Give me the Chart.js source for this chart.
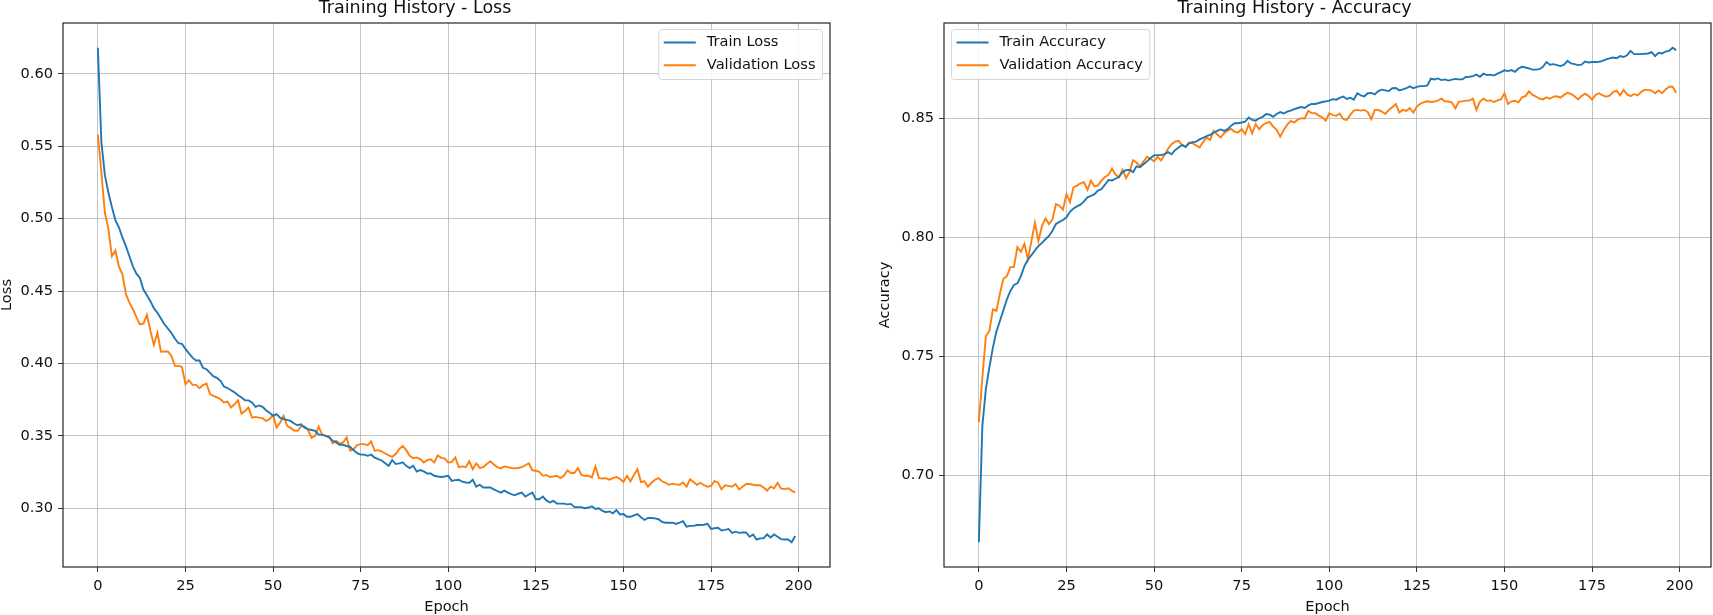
<!DOCTYPE html>
<html>
<head>
<meta charset="utf-8">
<title>Training History</title>
<script src="https://cdn.jsdelivr.net/npm/chart.js@4.4.1/dist/chart.umd.min.js"></script>
<style>
  html, body { margin: 0; padding: 0; background: #fff; }
  #wrap { position: relative; width: 1713px; height: 615px; overflow: hidden; }
  canvas { position: absolute; top: 0; }
  #lossChart { left: 0; }
  #accChart { left: 878px; }
</style>
</head>
<body>
<div id="wrap">
  <canvas id="lossChart" width="850" height="615"></canvas>
  <canvas id="accChart" width="835" height="615"></canvas>
</div>
<script>
// values, one per epoch (0..199)
const epochTicks = [0, 25, 50, 75, 100, 125, 150, 175, 200];
const lossTicks = [0.30, 0.35, 0.40, 0.45, 0.50, 0.55, 0.60];
const accTicks = [0.70, 0.75, 0.80, 0.85];

const trainLoss = [
  0.618, 0.553, 0.530, 0.518, 0.508, 0.499, 0.494, 0.487, 0.481, 0.474,
  0.467, 0.462, 0.459, 0.451, 0.447, 0.443, 0.438, 0.435, 0.431, 0.427,
  0.424, 0.421, 0.417, 0.414, 0.4135, 0.410, 0.407, 0.404, 0.402, 0.402,
  0.397, 0.396, 0.3935, 0.391, 0.390, 0.388, 0.384, 0.383, 0.3815, 0.380,
  0.378, 0.3765, 0.3745, 0.3745, 0.373, 0.370, 0.371, 0.370, 0.3677, 0.366,
  0.3638, 0.365, 0.3626, 0.3615, 0.361, 0.3603, 0.3585, 0.3573, 0.358, 0.3557,
  0.3546, 0.354, 0.3534, 0.351, 0.3507, 0.350, 0.349, 0.3466, 0.3455, 0.3438,
  0.3438, 0.343, 0.3424, 0.340, 0.338, 0.337, 0.337, 0.3362, 0.337, 0.335,
  0.334, 0.333, 0.331, 0.3293, 0.3333, 0.3305, 0.331, 0.3317, 0.3293, 0.3277,
  0.3293, 0.3254, 0.3264, 0.3254, 0.324, 0.324, 0.3224, 0.3219, 0.3216, 0.3219,
  0.3224, 0.3189, 0.3194, 0.3197, 0.3184, 0.3178, 0.3176, 0.3197, 0.3149, 0.3162,
  0.3143, 0.3143, 0.3143, 0.313, 0.3119, 0.3108, 0.3122, 0.3108, 0.3097, 0.3089,
  0.310, 0.3108, 0.3081, 0.3095, 0.3108, 0.3062, 0.3062, 0.3081, 0.3054, 0.304,
  0.3051, 0.3032, 0.3032, 0.3032, 0.3027, 0.303, 0.3008, 0.3008, 0.3008, 0.300,
  0.3005, 0.3014, 0.2995, 0.300, 0.2981, 0.2973, 0.2978, 0.2965, 0.2987, 0.2957,
  0.296, 0.2941, 0.2941, 0.2951, 0.296, 0.2938, 0.2919, 0.2933, 0.2933, 0.293,
  0.2924, 0.2906, 0.290, 0.290, 0.290, 0.2892, 0.290, 0.2911, 0.2873, 0.2878,
  0.2878, 0.2884, 0.2884, 0.2886, 0.2892, 0.2857, 0.2862, 0.2865, 0.2846, 0.2851,
  0.2857, 0.283, 0.2838, 0.283, 0.2833, 0.2833, 0.2803, 0.2819, 0.2784, 0.2792,
  0.2792, 0.2819, 0.2798, 0.2819, 0.2803, 0.2787, 0.2784, 0.2784, 0.2765, 0.2808
];

const valLoss = [
  0.558, 0.532, 0.504, 0.493, 0.474, 0.478, 0.467, 0.4615, 0.448, 0.442,
  0.4374, 0.432, 0.427, 0.4275, 0.4335, 0.4224, 0.4128, 0.4213, 0.408, 0.4082,
  0.4082, 0.4052, 0.3983, 0.3983, 0.3976, 0.3857, 0.3884, 0.3852, 0.3852, 0.3829,
  0.385, 0.3861, 0.3788, 0.3776, 0.3765, 0.3753, 0.373, 0.3737, 0.3696, 0.3718,
  0.3746, 0.3654, 0.3672, 0.3696, 0.3626, 0.3631, 0.3626, 0.3622, 0.3603, 0.3615,
  0.3645, 0.3557, 0.359, 0.3638, 0.357, 0.3555, 0.3537, 0.3535, 0.3565, 0.3565,
  0.354, 0.3486, 0.350, 0.3563, 0.351, 0.350, 0.350, 0.3448, 0.3466, 0.3447,
  0.3454, 0.3488, 0.3397, 0.3408, 0.3436, 0.3443, 0.3443, 0.3436, 0.3461, 0.3397,
  0.3401, 0.3392, 0.3378, 0.3365, 0.3355, 0.3374, 0.3408, 0.3431, 0.3401, 0.3362,
  0.3346, 0.3351, 0.3339, 0.3316, 0.3332, 0.3338, 0.3316, 0.3365, 0.3348, 0.3343,
  0.3316, 0.3319, 0.3351, 0.3284, 0.3289, 0.3284, 0.3324, 0.327, 0.331, 0.3278,
  0.3284, 0.3305, 0.3324, 0.3302, 0.3284, 0.3275, 0.3289, 0.3284, 0.3278, 0.3275,
  0.3278, 0.3284, 0.3297, 0.331, 0.3262, 0.3259, 0.3251, 0.3224, 0.323, 0.3216,
  0.3219, 0.3224, 0.3208, 0.3224, 0.3262, 0.3243, 0.3243, 0.3278, 0.323, 0.3224,
  0.3224, 0.3213, 0.3289, 0.3208, 0.3205, 0.3208, 0.3197, 0.3208, 0.3216, 0.3203,
  0.3181, 0.3224, 0.3186, 0.323, 0.327, 0.3181, 0.3186, 0.3149, 0.3176, 0.3197,
  0.3208, 0.3186, 0.3176, 0.3162, 0.317, 0.3165, 0.3162, 0.3178, 0.3149, 0.320,
  0.3181, 0.3162, 0.3176, 0.3159, 0.3149, 0.3154, 0.3189, 0.3176, 0.313, 0.3159,
  0.3154, 0.3149, 0.3167, 0.313, 0.3149, 0.3167, 0.3167, 0.3162, 0.3159, 0.3159,
  0.3143, 0.3122, 0.3149, 0.3138, 0.3176, 0.3135, 0.3132, 0.3138, 0.3122, 0.3108
];

const trainAcc = [
  0.672, 0.721, 0.7363, 0.7454, 0.7537, 0.7604, 0.7649, 0.7694, 0.774, 0.7775,
  0.780, 0.7807, 0.7837, 0.7879, 0.7907, 0.7925, 0.7945, 0.7963, 0.7977, 0.7992,
  0.8006, 0.8028, 0.8056, 0.8065, 0.8073, 0.8084, 0.8107, 0.8121, 0.813, 0.8137,
  0.8151, 0.8168, 0.8174, 0.8181, 0.8196, 0.8203, 0.8221, 0.8241, 0.8239, 0.8246,
  0.8254, 0.8274, 0.8282, 0.8284, 0.8274, 0.8298, 0.8294, 0.8307, 0.8319, 0.8333,
  0.8344, 0.8345, 0.8345, 0.8349, 0.8358, 0.8349, 0.8366, 0.8377, 0.8388, 0.8379,
  0.8395, 0.840, 0.8402, 0.8411, 0.8418, 0.8425, 0.843, 0.8439, 0.8447, 0.8453,
  0.8447, 0.8454, 0.8469, 0.8479, 0.8479, 0.8482, 0.8486, 0.8503, 0.8493, 0.849,
  0.850, 0.8506, 0.8518, 0.8515, 0.8506, 0.8518, 0.8526, 0.852, 0.8528, 0.8532,
  0.8538, 0.8543, 0.8547, 0.8543, 0.8554, 0.856, 0.856, 0.8564, 0.8568, 0.8571,
  0.8574, 0.858, 0.8578, 0.8585, 0.8591, 0.8581, 0.8586, 0.8578, 0.8605, 0.8596,
  0.8592, 0.8605, 0.8606, 0.860, 0.8614, 0.862, 0.8617, 0.8614, 0.8626, 0.8627,
  0.8617, 0.8621, 0.8626, 0.8634, 0.8626, 0.8632, 0.8635, 0.8635, 0.8638, 0.8666,
  0.8663, 0.8667, 0.866, 0.8663, 0.8658, 0.8662, 0.8665, 0.8663, 0.8663, 0.8673,
  0.8674, 0.8677, 0.8683, 0.8674, 0.8687, 0.8681, 0.8683, 0.8679, 0.8687, 0.8694,
  0.8701, 0.8698, 0.8702, 0.8695, 0.8709, 0.8716, 0.8713, 0.8709, 0.8704, 0.8704,
  0.8706, 0.8716, 0.8736, 0.8725, 0.8727, 0.8723, 0.8719, 0.8725, 0.8741, 0.873,
  0.8727, 0.8723, 0.8725, 0.8738, 0.8734, 0.8736, 0.8736, 0.8737, 0.8741, 0.8747,
  0.8751, 0.8755, 0.8752, 0.8761, 0.8757, 0.8764, 0.8783, 0.8769, 0.8769, 0.8769,
  0.8771, 0.8772, 0.8778, 0.8761, 0.8775, 0.8772, 0.878, 0.8783, 0.8796, 0.8786
];

const valAcc = [
  0.7224, 0.741, 0.7586, 0.7607, 0.7698, 0.7691, 0.7763, 0.7826, 0.7837, 0.7875,
  0.7875, 0.7959, 0.7939, 0.7973, 0.7907, 0.7984, 0.8061, 0.7984, 0.8047, 0.8079,
  0.8056, 0.8075, 0.814, 0.8133, 0.8116, 0.8182, 0.8148, 0.821, 0.8217, 0.8227,
  0.8232, 0.820, 0.8238, 0.8214, 0.8218, 0.8238, 0.8253, 0.8263, 0.8288, 0.8263,
  0.8252, 0.8284, 0.8249, 0.8274, 0.8324, 0.8314, 0.8298, 0.8319, 0.8338, 0.833,
  0.8319, 0.8338, 0.8323, 0.8347, 0.8372, 0.8391, 0.8402, 0.8405, 0.8388, 0.8381,
  0.8398, 0.8395, 0.8386, 0.8377, 0.840, 0.8419, 0.8409, 0.8447, 0.8433, 0.8419,
  0.8437, 0.8448, 0.8455, 0.8443, 0.844, 0.8455, 0.8433, 0.8475, 0.8437, 0.8475,
  0.8454, 0.8472, 0.848, 0.8485, 0.8465, 0.8451, 0.8423, 0.8451, 0.8473, 0.8489,
  0.8482, 0.8494, 0.850, 0.8499, 0.8531, 0.8522, 0.8521, 0.8511, 0.8504, 0.849,
  0.8521, 0.8513, 0.851, 0.852, 0.8496, 0.8493, 0.8514, 0.8532, 0.8535, 0.8532,
  0.8535, 0.8526, 0.8496, 0.8535, 0.8535, 0.8528, 0.8518, 0.8535, 0.8546, 0.8559,
  0.8524, 0.8535, 0.8531, 0.8543, 0.8524, 0.8549, 0.8561, 0.8568, 0.8571, 0.8568,
  0.857, 0.8574, 0.8582, 0.8571, 0.857, 0.8566, 0.8542, 0.857, 0.8571, 0.8574,
  0.8574, 0.8582, 0.8535, 0.857, 0.8582, 0.8573, 0.8575, 0.8568, 0.8575, 0.8579,
  0.8605, 0.856, 0.8571, 0.8573, 0.8567, 0.8588, 0.8593, 0.8613, 0.8598, 0.8591,
  0.8582, 0.8579, 0.8588, 0.8582, 0.8591, 0.8592, 0.8586, 0.8598, 0.8607, 0.8602,
  0.8592, 0.8579, 0.8593, 0.8603, 0.8593, 0.8578, 0.8598, 0.8605, 0.8596, 0.8591,
  0.8595, 0.861, 0.8616, 0.8596, 0.8619, 0.860, 0.8593, 0.8602, 0.8596, 0.861,
  0.8619, 0.8619, 0.8616, 0.8605, 0.8617, 0.8605, 0.8621, 0.8632, 0.8632, 0.8607
];

const epochs = trainLoss.map((_, i) => i);

const BLUE = '#1f77b4';
const ORANGE = '#ff7f0e';
const GRID = 'rgba(176,176,176,0.75)';
const FONT = '"DejaVu Sans", sans-serif';
const FS = 14.6;

Chart.defaults.font.family = FONT;
Chart.defaults.color = '#111';

// axes box and legend drawn inside the plot, like matplotlib
const boxAndLegend = {
  id: 'boxAndLegend',
  afterDraw(chart, args, opts) {
    const { ctx, chartArea: a } = chart;
    ctx.save();
    ctx.strokeStyle = '#262626';
    ctx.lineWidth = 1.2;
    ctx.strokeRect(a.left, a.top, a.right - a.left, a.bottom - a.top);

    ctx.font = FS + 'px ' + FONT;
    const sets = chart.data.datasets;
    const textW = Math.max(...sets.map(d => ctx.measureText(d.label).width));
    const w = 48 + textW + 7;
    const h = 50;
    const x = opts.side === 'right' ? a.right - 7.5 - w : a.left + 7.5;
    const y = a.top + 6.5;
    ctx.beginPath();
    ctx.roundRect(x, y, w, h, 3);
    ctx.fillStyle = 'rgba(255,255,255,0.85)';
    ctx.fill();
    ctx.strokeStyle = '#d6d6d6';
    ctx.lineWidth = 1;
    ctx.stroke();

    ctx.textBaseline = 'middle';
    ctx.textAlign = 'left';
    sets.forEach((d, i) => {
      const cy = y + 13 + i * 22.7;
      ctx.strokeStyle = d.borderColor;
      ctx.lineWidth = 2;
      ctx.beginPath();
      ctx.moveTo(x + 5, cy);
      ctx.lineTo(x + 37, cy);
      ctx.stroke();
      ctx.fillStyle = '#111';
      ctx.fillText(d.label, x + 48, cy);
    });
    ctx.restore();
  }
};

function makeChart(id, title, yLabel, yTicks, series, side, yWidth, padRight) {
  const all = series.flatMap(s => s.data);
  const lo = Math.min(...all), hi = Math.max(...all);
  const m = (hi - lo) * 0.05;
  const n = epochs.length - 1;
  const font = { family: FONT, size: FS };

  return new Chart(document.getElementById(id), {
    type: 'line',
    data: {
      labels: epochs,
      datasets: series.map(s => ({
        label: s.label,
        data: s.data,
        borderColor: s.color,
        backgroundColor: s.color,
        borderWidth: 1.9,
        pointRadius: 0,
        tension: 0,
        fill: false
      }))
    },
    options: {
      responsive: false,
      animation: false,
      events: [],
      layout: { padding: { left: 0, top: 0, right: padRight, bottom: 0 } },
      plugins: {
        legend: { display: false },
        tooltip: { enabled: false },
        title: {
          display: true,
          text: title,
          color: '#111',
          font: { family: FONT, size: 17.5, weight: 'normal', lineHeight: 1 },
          padding: { top: 0, bottom: 5.5 }
        },
        boxAndLegend: { side: side }
      },
      scales: {
        x: {
          type: 'linear',
          min: -0.05 * n,
          max: 1.05 * n,
          afterBuildTicks: s => { s.ticks = epochTicks.map(v => ({ value: v })); },
          afterFit: s => { s.height = 48; },
          grid: { color: GRID, lineWidth: 1, tickLength: 5, tickColor: '#333' },
          border: { display: false },
          ticks: { color: '#111', font, padding: 5, maxRotation: 0, callback: v => String(v) },
          title: { display: true, text: 'Epoch', color: '#111', font: { family: FONT, size: FS, lineHeight: 1 }, padding: 0 }
        },
        y: {
          type: 'linear',
          min: lo - m,
          max: hi + m,
          afterBuildTicks: s => { s.ticks = yTicks.map(v => ({ value: v })); },
          afterFit: s => { s.width = yWidth; },
          grid: { color: GRID, lineWidth: 1, tickLength: 5, tickColor: '#333' },
          border: { display: false },
          ticks: { color: '#111', font, padding: 5, callback: v => v.toFixed(2) },
          title: { display: true, text: yLabel, color: '#111', font: { family: FONT, size: FS, lineHeight: 1 }, padding: 0 }
        }
      }
    },
    plugins: [boxAndLegend]
  });
}

makeChart('lossChart', 'Training History - Loss', 'Loss', lossTicks, [
  { label: 'Train Loss', data: trainLoss, color: BLUE },
  { label: 'Validation Loss', data: valLoss, color: ORANGE }
], 'right', 63, 20);

makeChart('accChart', 'Training History - Accuracy', 'Accuracy', accTicks, [
  { label: 'Train Accuracy', data: trainAcc, color: BLUE },
  { label: 'Validation Accuracy', data: valAcc, color: ORANGE }
], 'left', 66, 2);
</script>
</body>
</html>
